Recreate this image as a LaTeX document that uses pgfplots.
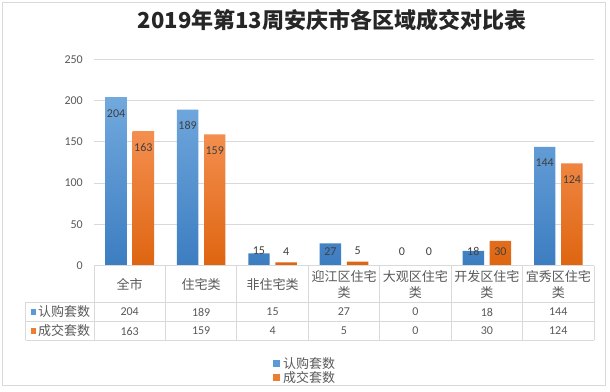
\documentclass[border=0pt]{standalone}
\usepackage{pgfplots}
\pgfplotsset{compat=1.18}
\usepackage{fontspec}
\setmainfont{Carlito}
\newfontfamily\cjk{Noto Sans CJK SC}
\definecolor{bluetop}{HTML}{72A9DE}
\definecolor{bluebot}{HTML}{3C7DC1}
\definecolor{orgtop}{HTML}{F48F50}
\definecolor{orgbot}{HTML}{DE6510}
\definecolor{blueleg}{HTML}{5B9BD5}
\definecolor{orgleg}{HTML}{ED7D31}
\definecolor{txt}{HTML}{595959}
\definecolor{gridc}{HTML}{D9D9D9}
\definecolor{lbl}{HTML}{404040}
\begin{document}
\begin{tikzpicture}[x=1pt,y=1pt]
\useasboundingbox (0,0) rectangle (610,391);
\fill[white] (0,0) rectangle (610,391);
\draw[gridc, line width=0.8pt] (2,6) rectangle (605,389);
\node[font=\cjk\bfseries\fontsize{22}{26}\selectfont, color=black!85] at (332,371) {2019年第13周安庆市各区域成交对比表};
\begin{axis}[
  at={(94pt,125.3pt)}, anchor=south west, scale only axis,
  width=500pt, height=206.5pt,
  xmin=-0.5, xmax=6.5, ymin=0, ymax=250,
  ytick={0,50,...,250},
  xtick={0,...,6},
  xticklabels={全市,住宅类,非住宅类,{迎江区住宅\\类},{大观区住宅\\类},{开发区住宅\\类},{宜秀区住宅\\类}},
  xticklabel style={font=\cjk\fontsize{13}{16}\selectfont, color=txt, align=center, anchor=center, inner sep=0pt, yshift=-18.3pt},
  yticklabel style={font=\fontsize{12}{14}\selectfont, color=txt, inner sep=0pt, anchor=east, xshift=-11pt},
  /pgf/number format/assume math mode=true,
  major tick length=0pt,
  tick style={draw=none},
  axis line style={draw=none},
  ymajorgrids, grid style={gridc, line width=0.8pt},
  clip=false,
  visualization depends on={rawy \as \rawy},
  nodes near coords,
  nodes near coords style={font=\fontsize{12}{14}\selectfont, color=lbl, anchor=center, inner sep=0pt, yshift={-0.826*min(19.4,\rawy-17.6)}},
]
\addplot[ybar, bar width=0.30, bar shift=-0.19, draw=none, top color=bluetop, bottom color=bluebot,
  every node near coord/.append style={xshift=-13.6pt}]
  coordinates {(0,204) (1,189) (2,15) (3,27) (4,0) (5,18) (6,144)};
\addplot[ybar, bar width=0.30, bar shift=0.19, draw=none, top color=orgtop, bottom color=orgbot,
  every node near coord/.append style={xshift=13.6pt}]
  coordinates {(0,163) (1,159) (2,4) (3,5) (4,0) (5,30) (6,124)};
\end{axis}
% category / data table grid
\begin{scope}[draw=gridc, line width=0.8pt]
\draw (94,125.3) -- (594,125.3);
\foreach \i in {0,...,7} \draw (94+71.43*\i,125.3) -- (94+71.43*\i,51);
\draw (25.7,88.7) -- (594,88.7);
\draw (25.7,70) -- (594,70);
\draw (25.7,51) -- (594,51);
\draw (25.7,88.7) -- (25.7,51);
\end{scope}
% row headers
\fill[blueleg] (30.5,76.3) rectangle (36,81.8);
\fill[orgleg] (30.5,57.3) rectangle (36,62.8);
\node[anchor=west, inner sep=0pt, font=\cjk\fontsize{13}{16}\selectfont, color=txt] at (38,79) {认购套数};
\node[anchor=west, inner sep=0pt, font=\cjk\fontsize{13}{16}\selectfont, color=txt] at (38,60) {成交套数};
\foreach \v [count=\k from 0] in {204,189,15,27,0,18,144}
  \node[font=\fontsize{12}{14}\selectfont, color=txt] at (94+71.43*\k+35.7,79) {\v};
\foreach \v [count=\k from 0] in {163,159,4,5,0,30,124}
  \node[font=\fontsize{12}{14}\selectfont, color=txt] at (94+71.43*\k+35.7,60) {\v};
% legend
\fill[blueleg] (272.8,24.2) rectangle (279.8,31.2);
\fill[orgleg] (272.8,10.2) rectangle (279.8,17.2);
\node[anchor=west, inner sep=0pt, font=\cjk\fontsize{13}{16}\selectfont, color=txt] at (283,27.7) {认购套数};
\node[anchor=west, inner sep=0pt, font=\cjk\fontsize{13}{16}\selectfont, color=txt] at (283,13.7) {成交套数};
\end{tikzpicture}
\end{document}
